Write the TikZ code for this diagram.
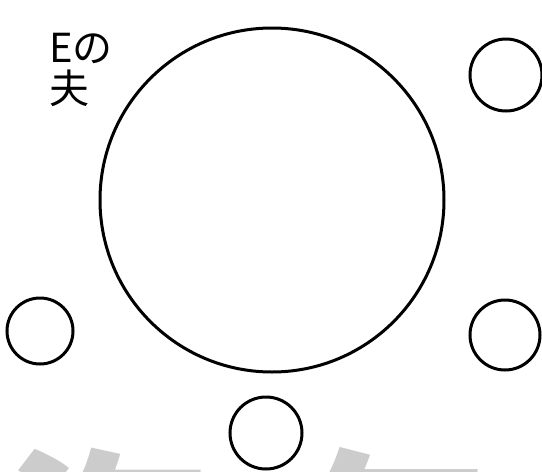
\documentclass[tikz,border=0pt]{standalone}
\usepackage{fontspec}
\newfontfamily\jpfont{Noto Sans CJK JP}
\definecolor{markgray}{HTML}{CCCCCC}
\tikzset{
  person/.style={circle, draw, line width=3pt, inner sep=0pt},
  watermark/.style={text=markgray, font=\jpfont\bfseries\fontsize{205}{205}\selectfont, inner sep=0pt, anchor=base west}
}
\begin{document}
\begin{tikzpicture}[x=1pt, y=-1pt]
  \useasboundingbox (0,0) rectangle (542,472);
  \clip (0,0) rectangle (542,472);
  % 透かし（下端で切れている）
  \node[watermark] (wmA) at (4,623) {海};
  \node[watermark] (wmB) at (292,623) {年};
  % 大きい円
  \node[person, minimum size=344pt] (E) at (272,200) {};
  % 小さい円
  \node[person, minimum size=72pt] (p1) at (506,75) {};
  \node[person, minimum size=66pt] (p2) at (40,331) {};
  \node[person, minimum size=70pt] (p3) at (505,335) {};
  \node[person, minimum size=72pt] (p4) at (266,433) {};
  % ラベル
  \node[anchor=north west, inner sep=0pt, align=left,
        font=\jpfont\fontsize{40}{41}\selectfont] (lbl) at (49,33) {Eの\\夫};
\end{tikzpicture}
\end{document}
